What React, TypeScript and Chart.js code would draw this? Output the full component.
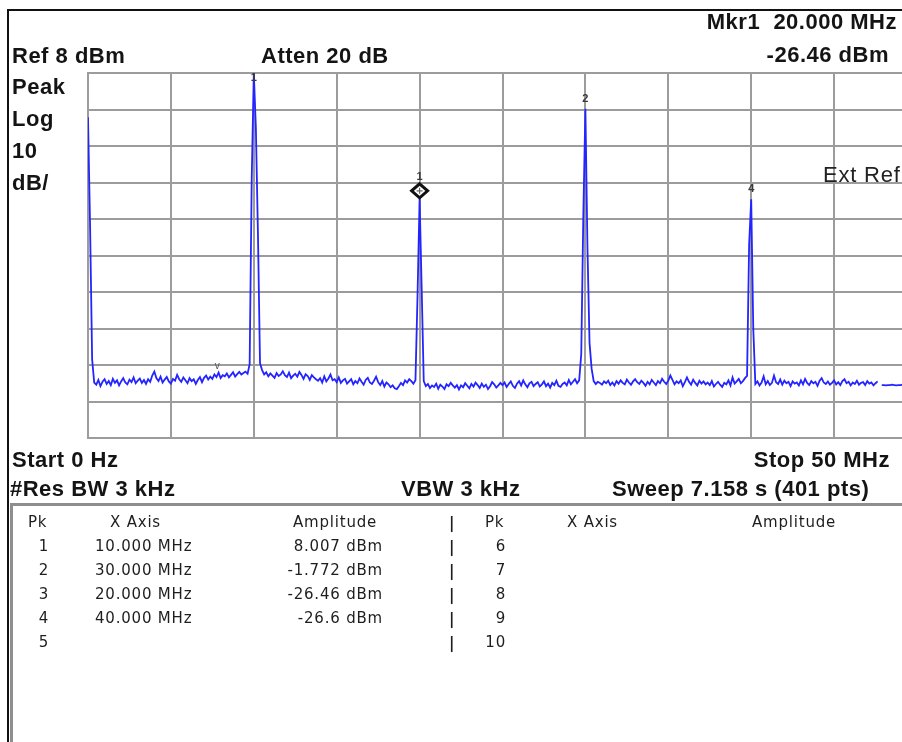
import React, { useEffect, useRef } from 'react';
import { Chart, registerables } from 'chart.js';

Chart.register(...registerables);

// ---- sweep settings ----
const START_MHZ = 0;
const STOP_MHZ = 50;
const REF_LEVEL_DBM = 8;
const DB_PER_DIV = 10;
const DIVISIONS = 10;
const SWEEP_POINTS = 401;

// ---- trace (401 sweep points, dBm) ----
const traceDbm: (number | null)[] = [
  -4.1, -33.8, -70.5, -76.8, -77.4, -76.1, -77.8, -76.6, -75.9, -77.2, -76.4, -77.5, -75.8, -76.9, -76.2, -77.6, -76.5, -75.6, -76.8, -77.3,
  -76.0, -76.7, -75.4, -77.0, -76.3, -75.7, -76.9, -76.1, -77.2, -75.9, -76.6, -74.9, -73.8, -75.6, -76.4, -75.2, -76.8, -76.0, -75.3, -76.5,
  -77.1, -75.8, -76.3, -74.7, -75.9, -76.6, -75.4, -76.2, -77.0, -75.6, -76.4, -75.9, -77.2, -76.1, -75.3, -76.7, -75.5, -74.9, -76.0, -75.2,
  -75.8, -74.6, -75.3, -74.1, -75.6, -74.8, -75.1, -74.3, -75.4, -74.7, -74.0, -75.2, -74.5, -73.9, -74.6, -74.2, -73.8, -74.4, -71.8, -21.0,
  8.007, -7.0, -36.0, -71.5, -73.4, -74.6, -74.0, -75.1, -74.3, -74.9, -75.5, -74.2, -75.0, -74.6, -73.7, -74.8, -75.3, -74.1, -75.6, -74.9,
  -74.4, -75.2, -73.9, -74.7, -75.8, -74.5, -75.0, -76.1, -74.8, -75.4, -75.9, -76.3, -75.6, -76.8, -75.1, -76.5, -75.7, -74.6, -76.2, -75.9,
  -76.7, -75.4, -76.9, -76.2, -75.8, -77.1, -76.5, -75.9, -77.3, -76.4, -77.0, -75.7, -76.6, -77.4, -76.1, -75.5, -76.8, -77.2, -76.3, -75.2,
  -76.7, -77.5, -76.4, -77.9, -76.8, -77.3, -78.1, -77.6, -78.4, -78.6, -77.8, -76.9, -77.5, -76.2, -76.8, -75.9, -76.4, -77.1, -76.2, -53.0,
  -26.46, -51.0, -76.4, -77.8, -77.2, -78.3, -77.6, -78.0, -77.1, -78.5, -77.4, -77.9, -78.6, -77.3, -77.8, -76.9, -77.6, -78.2, -77.5, -78.7,
  -77.6, -78.1, -77.0, -77.7, -78.4, -77.2, -77.9, -76.8, -77.5, -78.3, -77.1, -78.0, -77.4, -78.6, -77.8, -76.7, -77.3, -78.2, -77.6, -76.9,
  -77.5, -76.8, -78.0, -77.2, -76.5, -77.7, -78.3, -77.1, -76.4, -77.6, -76.2, -77.3, -78.1, -77.0, -76.6, -77.8, -77.2, -76.7, -77.9, -77.3,
  -76.5, -77.8, -77.1, -78.2, -76.9, -77.5, -76.3, -77.7, -78.0, -77.2, -76.8, -77.6, -76.1, -77.3, -76.6, -75.9, -77.0, -76.2, -69.0, -31.0,
  -1.772, -40.0, -66.0, -73.0, -76.4, -77.2, -76.6, -76.9, -77.4, -76.5, -77.0, -76.3, -77.5, -76.8, -77.6, -76.4, -77.1, -76.2, -76.9, -77.3,
  -76.0, -76.8, -77.4, -76.5, -75.9, -76.7, -77.2, -76.3, -76.9, -77.7, -76.6, -77.3, -76.1, -76.8, -77.5, -76.4, -77.0, -75.8, -76.6, -77.2,
  -76.3, -74.9, -76.1, -77.3, -76.5, -77.0, -76.2, -77.8, -76.7, -75.4, -76.6, -77.4, -76.0, -76.9, -77.6, -76.3, -77.1, -76.5, -77.3, -76.8,
  -77.5, -76.4, -77.9, -77.2, -76.6, -77.4, -78.0, -76.9, -77.3, -76.2, -77.6, -75.4, -77.1, -76.5, -75.8, -77.0, -76.4, -75.6, -75.0, -39.0,
  -26.6, -62.0, -77.2, -76.5, -77.6, -76.8, -75.1, -77.3, -76.4, -77.5, -76.9, -74.9, -76.7, -77.2, -76.0, -77.4, -76.3, -77.0, -76.6, -77.8,
  -76.5, -77.1, -76.8, -77.6, -76.2, -77.3, -75.8, -76.9, -77.5, -76.4, -77.0, -76.6, -77.7, -76.3, -75.6, -76.8, -77.2, -76.5, -77.4, -76.9,
  -76.2, -77.3, -76.7, -77.5, -76.4, -75.9, -77.0, -76.6, -77.6, -76.8, -77.2, -76.3, -77.4, -76.9, -76.7, -77.5, -76.4, -77.1, -76.8, -77.6,
  -77.0, -76.5, null, -77.5, -77.5, -77.6, -77.5, -77.5, -77.4, -77.5, -77.6, -77.5, -77.5, -77.4, -77.5, -77.6, -77.5, -77.5, -77.4, -77.5,
  -77.5,
];

// ---- markers ----
const markerFreqsMHz = [10, 30, 20, 40];
const markerLabels = ['1', '2', '1', '4'];
const activeMarkerFreqMHz = 20;
const displayMark = { freqMHz: 7.8, ampDbm: -72.4, label: 'v' };

// ---- peak table ----
const peakNumsLeft = ['1', '2', '3', '4', '5'];
const peakFreqsLeft = ['10.000 MHz', '30.000 MHz', '20.000 MHz', '40.000 MHz', ''];
const peakAmpsLeft = ['8.007 dBm', '-1.772 dBm', '-26.46 dBm', '-26.6 dBm', ''];
const peakNumsRight = ['6', '7', '8', '9', '10'];

// ---- annotation texts ----
const headerTexts = {
  mkrFreq: 'Mkr1  20.000 MHz',
  mkrAmp: '-26.46 dBm',
  ref: 'Ref 8 dBm',
  atten: 'Atten 20 dB',
  scaleLines: ['Peak', 'Log', '10', 'dB/'],
  extRef: 'Ext Ref',
  start: 'Start 0 Hz',
  stop: 'Stop 50 MHz',
  rbw: '#Res BW 3 kHz',
  vbw: 'VBW 3 kHz',
  sweep: 'Sweep 7.158 s (401 pts)',
};

const CANVAS_W = 940;
const CANVAS_H = 742;
const PAGE_W = 902;
const BOLD = '"Liberation Sans", Arial, sans-serif';
const TABLE_FONT = '"DejaVu Sans", Verdana, sans-serif';

function Txt(props: {
  x?: number; right?: number; base: number; size: number; bold?: boolean;
  family?: string; color?: string; ls?: number; children: React.ReactNode;
}) {
  const { x, right, base, size, bold, family, color, ls, children } = props;
  const style: React.CSSProperties = {
    position: 'absolute',
    top: base - 0.847 * size,
    fontSize: size,
    lineHeight: `${size}px`,
    fontFamily: family || BOLD,
    fontWeight: bold ? 700 : 400,
    whiteSpace: 'pre',
    color: color || '#141414',
    letterSpacing: ls !== undefined ? ls : 0,
  };
  if (x !== undefined) style.left = x;
  if (right !== undefined) style.right = PAGE_W - right;
  return <div style={style}>{children}</div>;
}

const markerPlugin = {
  id: 'saMarkers',
  afterDatasetsDraw(chart: any) {
    const { ctx, chartArea, scales } = chart;
    const xs = scales.x;
    const ys = scales.y;
    ctx.save();
    ctx.font = 'bold 11px "Liberation Sans", Arial, sans-serif';
    ctx.textAlign = 'center';
    ctx.textBaseline = 'middle';
    markerFreqsMHz.forEach((f, k) => {
      const idx = Math.round(((f - START_MHZ) / (STOP_MHZ - START_MHZ)) * (SWEEP_POINTS - 1));
      const amp = traceDbm[idx] as number;
      const px = xs.getPixelForValue(f);
      const py = ys.getPixelForValue(Math.min(amp, REF_LEVEL_DBM));
      const active = f === activeMarkerFreqMHz;
      if (active) {
        const cy = py - 8;
        ctx.beginPath();
        ctx.moveTo(px, cy - 7);
        ctx.lineTo(px + 8, cy);
        ctx.lineTo(px, cy + 7);
        ctx.lineTo(px - 8, cy);
        ctx.closePath();
        ctx.fillStyle = '#ffffff';
        ctx.fill();
        ctx.lineWidth = 3;
        ctx.strokeStyle = '#111111';
        ctx.stroke();
        ctx.lineWidth = 1.2;
        ctx.strokeStyle = '#666666';
        ctx.beginPath();
        ctx.moveTo(px - 3, cy);
        ctx.lineTo(px + 3, cy);
        ctx.moveTo(px, cy - 3);
        ctx.lineTo(px, cy + 3);
        ctx.stroke();
      }
      let ly = active ? py - 22 : py - 10;
      ly = Math.max(ly, chartArea.top + 5);
      ctx.fillStyle = '#3a3a3a';
      ctx.fillText(markerLabels[k], px, ly);
    });
    ctx.fillStyle = '#555555';
    ctx.font = '10px "Liberation Sans", Arial, sans-serif';
    ctx.fillText(displayMark.label, xs.getPixelForValue(displayMark.freqMHz), ys.getPixelForValue(displayMark.ampDbm));
    ctx.restore();
  },
};

function SpectrumChart() {
  const ref = useRef<HTMLCanvasElement | null>(null);
  useEffect(() => {
    if (!ref.current) return;
    const step = (STOP_MHZ - START_MHZ) / (SWEEP_POINTS - 1);
    const points = traceDbm.map((v, i) => ({ x: START_MHZ + i * step, y: v }));
    const bottom = REF_LEVEL_DBM - DB_PER_DIV * DIVISIONS;
    const yTicks: number[] = [];
    for (let d = 0; d <= DIVISIONS; d++) yTicks.push(bottom + d * DB_PER_DIV);
    const gridColor = '#9c9c9c';
    const chart = new Chart(ref.current, {
      type: 'line',
      data: {
        datasets: [
          {
            data: points as any,
            borderColor: '#2424ff',
            borderWidth: 1.8,
            pointRadius: 0,
            tension: 0,
            spanGaps: false,
          },
        ],
      },
      options: {
        animation: false,
        responsive: false,
        devicePixelRatio: 1,
        layout: { padding: { left: 88, top: 73, right: CANVAS_W - 917, bottom: CANVAS_H - 438 } },
        plugins: { legend: { display: false }, tooltip: { enabled: false }, title: { display: false } },
        events: [],
        scales: {
          x: {
            type: 'linear',
            min: START_MHZ,
            max: STOP_MHZ,
            ticks: { display: false, stepSize: (STOP_MHZ - START_MHZ) / DIVISIONS },
            grid: { color: gridColor, lineWidth: 2, drawTicks: false },
            border: { display: true, color: gridColor, width: 2 },
            afterFit: (axis: any) => { axis.height = 0; },
          },
          y: {
            type: 'linear',
            min: bottom,
            max: REF_LEVEL_DBM,
            ticks: { display: false },
            afterBuildTicks: (axis: any) => { axis.ticks = yTicks.map((value) => ({ value })); },
            grid: { color: gridColor, lineWidth: 2, drawTicks: false },
            border: { display: true, color: gridColor, width: 2 },
            afterFit: (axis: any) => { axis.width = 0; },
          },
        },
      },
      plugins: [markerPlugin],
    });
    return () => chart.destroy();
  }, []);
  return (
    <canvas
      ref={ref}
      width={CANVAS_W}
      height={CANVAS_H}
      style={{ position: 'absolute', left: 0, top: 0, width: CANVAS_W, height: CANVAS_H }}
    />
  );
}

export default function App() {
  const rowBases = [552, 576, 600, 624, 648];
  return (
    <div
      style={{
        position: 'fixed', left: 0, top: 0, width: PAGE_W, height: CANVAS_H,
        overflow: 'hidden', background: '#ffffff',
      }}
    >
      {/* outer frame */}
      <div style={{ position: 'absolute', left: 7, top: 9, width: 1000, height: 1000, borderLeft: '2px solid #111', borderTop: '2px solid #111' }} />
      {/* table box */}
      <div style={{ position: 'absolute', left: 10, top: 503, width: 1000, height: 1000, borderLeft: '3px solid #8e8e8e', borderTop: '3px solid #8e8e8e' }} />

      <SpectrumChart />

      {/* header */}
      <Txt right={897} base={30} size={22} bold ls={0.5}>{headerTexts.mkrFreq}</Txt>
      <Txt right={889} base={63} size={22} bold ls={0.5}>{headerTexts.mkrAmp}</Txt>
      <Txt x={12} base={64} size={22} bold ls={0.5}>{headerTexts.ref}</Txt>
      <Txt x={261} base={64} size={22} bold ls={0.5}>{headerTexts.atten}</Txt>
      {headerTexts.scaleLines.map((t, i) => (
        <Txt key={t} x={12} base={95 + i * 32} size={22} bold ls={0.5}>{t}</Txt>
      ))}
      <Txt x={823} base={183} size={22} color="#222" ls={0.8}>{headerTexts.extRef}</Txt>

      {/* footer */}
      <Txt x={12} base={468} size={22} bold ls={0.5}>{headerTexts.start}</Txt>
      <Txt right={890} base={468} size={22} bold ls={0.5}>{headerTexts.stop}</Txt>
      <Txt x={10} base={497} size={22} bold ls={0.5}>{headerTexts.rbw}</Txt>
      <Txt x={401} base={497} size={22} bold ls={0.5}>{headerTexts.vbw}</Txt>
      <Txt x={612} base={497} size={22} bold ls={0.5}>{headerTexts.sweep}</Txt>

      {/* peak table header */}
      <Txt x={28} base={528} size={15} family={TABLE_FONT} color="#1e1e1e" ls={0.8}>Pk</Txt>
      <Txt x={110} base={528} size={15} family={TABLE_FONT} color="#1e1e1e" ls={0.8}>X Axis</Txt>
      <Txt x={293} base={528} size={15} family={TABLE_FONT} color="#1e1e1e" ls={0.8}>Amplitude</Txt>
      <Txt x={449} base={529} size={15} family={TABLE_FONT} bold color="#1e1e1e">|</Txt>
      <Txt x={485} base={528} size={15} family={TABLE_FONT} color="#1e1e1e" ls={0.8}>Pk</Txt>
      <Txt x={567} base={528} size={15} family={TABLE_FONT} color="#1e1e1e" ls={0.8}>X Axis</Txt>
      <Txt x={752} base={528} size={15} family={TABLE_FONT} color="#1e1e1e" ls={0.8}>Amplitude</Txt>

      {rowBases.map((b, i) => (
        <React.Fragment key={i}>
          <Txt right={49} base={b} size={15} family={TABLE_FONT} color="#1e1e1e" ls={0.8}>{peakNumsLeft[i]}</Txt>
          <Txt x={95} base={b} size={15} family={TABLE_FONT} color="#1e1e1e" ls={0.8}>{peakFreqsLeft[i]}</Txt>
          <Txt right={383} base={b} size={15} family={TABLE_FONT} color="#1e1e1e" ls={0.8}>{peakAmpsLeft[i]}</Txt>
          <Txt x={449} base={b + 1} size={15} family={TABLE_FONT} bold color="#1e1e1e">|</Txt>
          <Txt right={506} base={b} size={15} family={TABLE_FONT} color="#1e1e1e" ls={0.8}>{peakNumsRight[i]}</Txt>
        </React.Fragment>
      ))}
    </div>
  );
}
